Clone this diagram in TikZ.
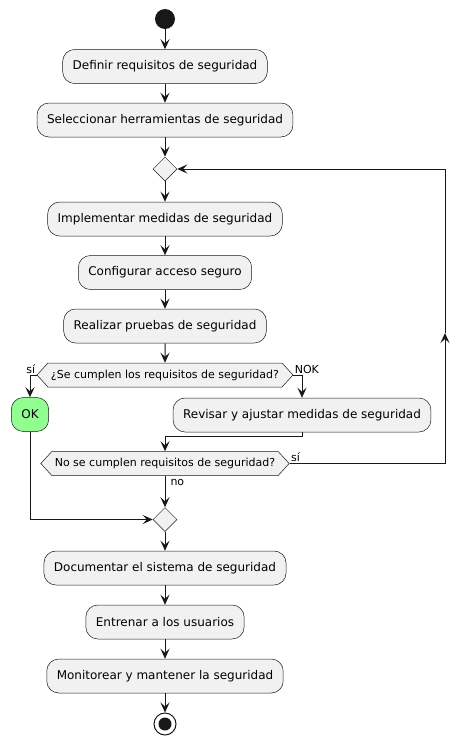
\documentclass[tikz,border=0pt]{standalone}
\usepackage{fontspec}
\setmainfont{DejaVu Sans}
\usetikzlibrary{arrows.meta, shapes.geometric, shapes.symbols}

\definecolor{actfill}{HTML}{F1F1F1}
\definecolor{actline}{HTML}{181818}
\definecolor{okgreen}{HTML}{90FF90}

\begin{document}
\begin{tikzpicture}[x=1pt, y=-1pt,
    act/.style={draw=actline, fill=actfill, rounded corners=12pt, line width=0.5pt, minimum height=34pt, inner xsep=10pt, font=\fontsize{12}{14}\selectfont},
    test/.style={draw=actline, fill=actfill, signal, signal to=west and east, signal pointer angle=95, line width=0.5pt, minimum height=24pt, inner xsep=3pt, inner ysep=0pt, font=\fontsize{11}{13}\selectfont},
    merge/.style={draw=actline, fill=actfill, diamond, minimum size=24pt, inner sep=0pt, line width=0.5pt},
    flow/.style={draw=actline, line width=1pt, -{Stealth[length=10pt, width=9pt, inset=4pt]}},
    lbl/.style={font=\fontsize{11}{13}\selectfont, inner sep=1pt}]

    \useasboundingbox (0,0) rectangle (470,745);

    \node[circle, fill=actline, minimum size=20pt, inner sep=0pt] (start) at (165,19) {};

    \foreach \n/\y/\t in {a1/66.5/Definir requisitos de seguridad, a2/120/Seleccionar herramientas de seguridad, a3/219/Implementar medidas de seguridad, a4/272.5/Configurar acceso seguro, a5/326/Realizar pruebas de seguridad, a6/568/Documentar el sistema de seguridad, a7/622/Entrenar a los usuarios, a8/676/Monitorear y mantener la seguridad}
        \node[act] (\n) at (165,\y) {\t};

    \node[merge] (m1) at (165,169) {};
    \node[test] (d1) at (165,375) {¿Se cumplen los requisitos de seguridad?};
    \node[act, fill=okgreen] (ok) at (30,414.5) {OK};
    \node[act] (rev) at (302,415) {Revisar y ajustar medidas de seguridad};
    \node[test] (d2) at (165,463.5) {No se cumplen requisitos de seguridad?};
    \node[merge] (m2) at (165,519.5) {};
    \node[circle, draw=actline, fill=white, line width=1pt, minimum size=22pt, inner sep=0pt, path picture={\fill[actline] (path picture bounding box.center) circle (6.5pt);}] (stop) at (165,724) {};
    \coordinate (up) at (445,333);

    \foreach \a/\b in {start/a1, a1/a2, a2/m1, m1/a3, a3/a4, a4/a5, a5/d1, m2/a6, a6/a7, a7/a8, a8/stop}
        \draw[flow] (\a) -- (\b);

    \draw[flow] (d1.west) node[lbl, anchor=south east] {sí} -| (ok);
    \draw[flow] (d1.east) node[lbl, anchor=south west] {NOK} -| (rev);
    \draw[flow] (rev.south) -- ++(0,4) -| (d2);
    \draw[flow] (d2.east) node[lbl, anchor=south west] {sí} -| (up);
    \draw[flow] (up) |- (m1);
    \draw[flow] (d2.south) node[lbl, anchor=north west, xshift=4pt, yshift=-2pt] {no} -- (m2);
    \draw[flow] (ok) |- (m2);

\end{tikzpicture}
\end{document}
